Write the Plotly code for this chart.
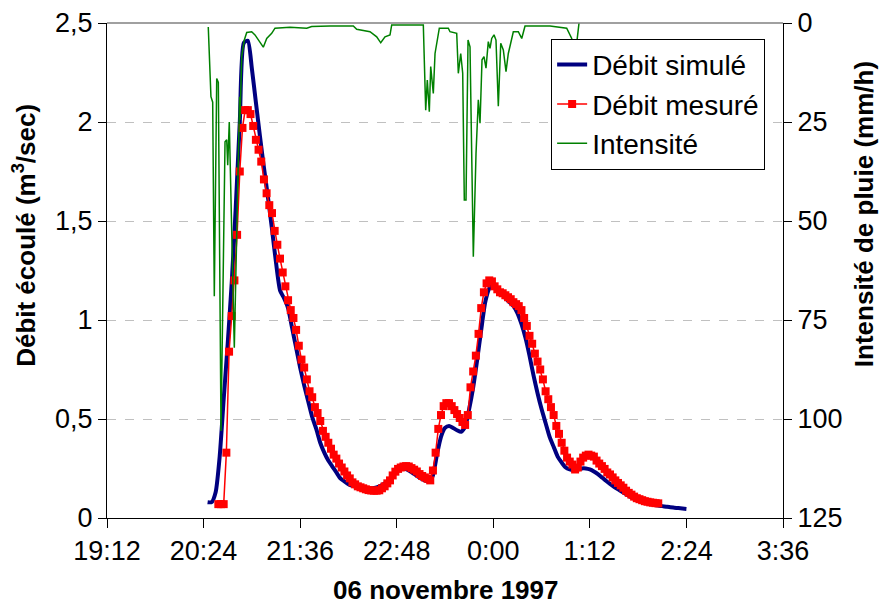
import pandas as pd
import plotly.graph_objects as go

# ---------------- data ----------------
x_tick_labels = ["19:12", "20:24", "21:36", "22:48", "0:00", "1:12", "2:24", "3:36"]
y_left_ticks = [0, 0.5, 1, 1.5, 2, 2.5]
y_left_labels = ["0", "0,5", "1", "1,5", "2", "2,5"]
y_right_ticks = [0, 25, 50, 75, 100, 125]

# Débit simulé : one value every 3 minutes starting at 20:27
sim_start = "20:27"
sim_step_min = 3
debit_simule = [
    0.08, 0.08, 0.13, 0.31, 0.60, 0.88, 1.19, 1.57, 2.00, 2.40,
    2.41, 2.27, 2.10, 1.93, 1.77, 1.62, 1.46, 1.29, 1.15, 1.11,
    1.06, 0.96, 0.86, 0.76, 0.67, 0.59, 0.51, 0.45, 0.38, 0.33,
    0.29, 0.26, 0.23, 0.20, 0.185, 0.17, 0.162, 0.158, 0.153, 0.15,
    0.149, 0.15, 0.155, 0.163, 0.175, 0.19, 0.213, 0.235, 0.248, 0.248,
    0.24, 0.227, 0.213, 0.20, 0.19, 0.183, 0.215, 0.32, 0.41, 0.455,
    0.465, 0.455, 0.443, 0.435, 0.46, 0.55, 0.66, 0.80, 0.95, 1.09,
    1.16, 1.185, 1.16, 1.135, 1.11, 1.09, 1.07, 1.035, 0.98, 0.91,
    0.82, 0.72, 0.63, 0.55, 0.48, 0.41, 0.36, 0.31, 0.28, 0.255,
    0.245, 0.24, 0.245, 0.25, 0.25, 0.245, 0.235, 0.222, 0.205, 0.188,
    0.172, 0.158, 0.145, 0.132, 0.12, 0.108, 0.098, 0.09, 0.083, 0.077,
    0.072, 0.067, 0.063, 0.06, 0.057, 0.054, 0.052, 0.05, 0.048, 0.046,
]

# Débit mesuré : one value every 2 minutes starting at 20:35
mes_start = "20:35"
mes_step_min = 2
debit_mesure = [
    0.07, 0.07, 0.07, 0.33, 0.84, 1.02, 1.20, 1.43, 1.75, 1.97,
    2.06, 2.06, 2.04, 1.98, 1.91, 1.86, 1.80, 1.71, 1.64, 1.58,
    1.54, 1.45, 1.38, 1.31, 1.24, 1.17, 1.10, 1.05, 1.01, 0.95,
    0.87, 0.80, 0.76, 0.70, 0.64, 0.61, 0.56, 0.53, 0.49, 0.44,
    0.41, 0.38, 0.35, 0.32, 0.30, 0.275, 0.255, 0.235, 0.215, 0.20,
    0.18, 0.17, 0.16, 0.155, 0.15, 0.145, 0.141, 0.139, 0.138, 0.138,
    0.14, 0.15, 0.16, 0.175, 0.19, 0.215, 0.234, 0.248, 0.255, 0.26,
    0.262, 0.26, 0.252, 0.244, 0.235, 0.222, 0.212, 0.205, 0.198, 0.19,
    0.24, 0.33, 0.45, 0.52, 0.565, 0.58, 0.58, 0.565, 0.545, 0.525,
    0.505, 0.485, 0.47, 0.52, 0.66, 0.74, 0.82, 0.93, 1.06, 1.14,
    1.185, 1.20, 1.195, 1.17, 1.155, 1.14, 1.135, 1.125, 1.115, 1.105,
    1.09, 1.08, 1.07, 1.05, 1.01, 0.97, 0.92, 0.88, 0.83, 0.79,
    0.75, 0.70, 0.64, 0.60, 0.56, 0.52, 0.465, 0.425, 0.38, 0.34,
    0.305, 0.285, 0.27, 0.245, 0.255, 0.285, 0.305, 0.315, 0.32, 0.315,
    0.31, 0.29, 0.275, 0.262, 0.248, 0.23, 0.22, 0.205, 0.19, 0.177,
    0.165, 0.153, 0.138, 0.127, 0.118, 0.108, 0.10, 0.095, 0.09, 0.085,
    0.082, 0.079, 0.077, 0.075, 0.074,
]

# Intensité de pluie (mm/h)
intensite_time = [
    "20:27:30", "20:29:30", "20:30:48", "20:32:00", "20:33:48", "20:35:00", "20:37:00", "20:40:00", "20:41:15", "20:42:00",
    "20:43:10", "20:46:55", "20:50:54", "20:51:10", "20:52:25", "20:54:22", "20:56:10", "20:59:53", "21:02:20", "21:06:05",
    "21:08:32", "21:11:05", "21:14:48", "21:17:15", "21:28:27", "21:40:54", "21:44:37", "21:58:16", "22:15:38", "22:18:11",
    "22:28:05", "22:33:05", "22:36:05", "22:39:16", "22:43:00", "22:44:16", "23:07:50", "23:09:37", "23:10:48", "23:12:18",
    "23:13:21", "23:15:17", "23:16:34", "23:19:46", "23:26:28", "23:27:44", "23:32:44", "23:33:56", "23:35:43", "23:37:12",
    "23:38:24", "23:39:40", "23:41:10", "23:42:39", "23:45:07", "23:47:07", "23:48:50", "23:50:06", "23:51:36", "23:53:05",
    "23:54:34", "23:56:17", "23:57:33", "23:58:49", "00:00:32", "00:02:01", "00:03:45", "00:05:33", "00:07:29", "00:09:29",
    "00:11:12", "00:14:56", "00:18:40", "00:21:12", "00:23:40", "00:42:18", "00:54:44", "00:58:28", "00:59:40", "01:00:56",
    "01:02:12", "01:03:55",
]
intensite = [
    1, 18.6, 20, 69, 14, 15, 103, 30, 29.5, 35.9,
    25, 82, 18.6, 24.5, 8.5, 4.3, 2.4, 2.2, 3, 4.7,
    6.1, 3.9, 2.6, 1.3, 1.1, 1.3, 0.9, 0.75, 0.75, 1.6,
    2.2, 3.5, 5, 3.5, 3, 0.5, 0.5, 22, 14.4, 22.4,
    11, 17.8, 7.7, 1.3, 1.3, 2.2, 2.6, 12.7, 7.7, 12.7,
    44.7, 44.7, 4.3, 6, 59, 33, 19.4, 25.3, 9.3, 8.5,
    11.4, 4.7, 6.4, 3.9, 3, 4.3, 21, 5.1, 6.8, 12.3,
    7.7, 2.2, 2.2, 3.9, 0.75, 0.75, 1.3, 3.9, 16, 4.3,
    5.1, 0,
]


def clock(s):
    parts = [int(p) for p in s.split(":")]
    while len(parts) < 3:
        parts.append(0)
    h, m, sec = parts
    day = "1997-11-06" if h >= 12 else "1997-11-07"
    return pd.Timestamp(day) + pd.Timedelta(hours=h, minutes=m, seconds=sec)


sim_x = pd.date_range(clock(sim_start), periods=len(debit_simule), freq=f"{sim_step_min}min")
mes_x = pd.date_range(clock(mes_start), periods=len(debit_mesure), freq=f"{mes_step_min}min")
int_x = [clock(t) for t in intensite_time]
x_tickvals = [clock(t) for t in x_tick_labels]

FONT = "Liberation Sans, Arial, sans-serif"

fig = go.Figure()
fig.add_trace(go.Scatter(
    x=sim_x, y=debit_simule, name="Débit simulé", mode="lines",
    line=dict(color="#000080", width=4, shape="spline", smoothing=0.6),
))
fig.add_trace(go.Scatter(
    x=mes_x, y=debit_mesure, name="Débit mesuré", mode="lines+markers",
    line=dict(color="#FF0000", width=1.5),
    marker=dict(symbol="square", size=8, color="#FF0000"),
))
fig.add_trace(go.Scatter(
    x=int_x, y=intensite, name="Intensité", mode="lines", yaxis="y2",
    line=dict(color="#008000", width=1.5),
))

fig.update_layout(
    width=883, height=608, autosize=False,
    margin=dict(l=107, r=100, t=23, b=90, autoexpand=False),
    paper_bgcolor="white", plot_bgcolor="white",
    font=dict(family=FONT, size=27, color="black"),
    showlegend=True,
    legend=dict(
        x=0.657, y=0.968, xanchor="left", yanchor="top",
        bgcolor="white", bordercolor="black", borderwidth=1,
        font=dict(family=FONT, size=28, color="black"),
        tracegroupgap=0, itemwidth=30,
    ),
    xaxis=dict(
        range=[x_tickvals[0], x_tickvals[-1]],
        tickvals=x_tickvals, ticktext=x_tick_labels,
        ticks="outside", ticklen=9, tickcolor="black", tickwidth=1,
        showline=True, linecolor="black", linewidth=1,
        showgrid=False, zeroline=False, automargin=False,
        tickfont=dict(family=FONT, size=27, color="black"),
    ),
    yaxis=dict(
        range=[0, 2.5], tickvals=y_left_ticks, ticktext=y_left_labels,
        ticks="outside", ticklen=8, tickcolor="black", tickwidth=1,
        showline=True, linecolor="black", linewidth=1,
        showgrid=True, gridcolor="#c0c0c0", griddash="dash", gridwidth=1,
        zeroline=False, automargin=False,
        tickfont=dict(family=FONT, size=27, color="black"),
    ),
    yaxis2=dict(
        overlaying="y", side="right", range=[125, 0],
        tickvals=y_right_ticks,
        ticks="outside", ticklen=8, tickcolor="black", tickwidth=1,
        showline=True, linecolor="black", linewidth=1,
        showgrid=False, zeroline=False, automargin=False,
        tickfont=dict(family=FONT, size=27, color="black"),
    ),
    shapes=[dict(type="line", xref="paper", yref="paper", x0=0, x1=1, y0=1, y1=1,
                 line=dict(color="#808080", width=1.5), layer="above")],
    annotations=[
        dict(text="<b>Débit écoulé (m<sup>3</sup>/sec)</b>", textangle=-90,
             xref="paper", yref="paper", x=-0.1213, y=0.57, showarrow=False,
             xanchor="center", yanchor="middle",
             font=dict(family=FONT, size=26, color="black")),
        dict(text="<b>Intensité de pluie (mm/h)</b>", textangle=-90,
             xref="paper", yref="paper", x=1.12, y=0.614, showarrow=False,
             xanchor="center", yanchor="middle",
             font=dict(family=FONT, size=26, color="black")),
        dict(text="<b>06 novembre 1997</b>",
             xref="paper", yref="paper", x=0.5, y=-0.1455, showarrow=False,
             xanchor="center", yanchor="middle",
             font=dict(family=FONT, size=26, color="black")),
    ],
)

fig.write_html(
    "out.html",
    config={"displayModeBar": False},
    post_script="document.body.style.margin='0';document.body.style.padding='0';document.body.style.overflow='hidden';",
)
